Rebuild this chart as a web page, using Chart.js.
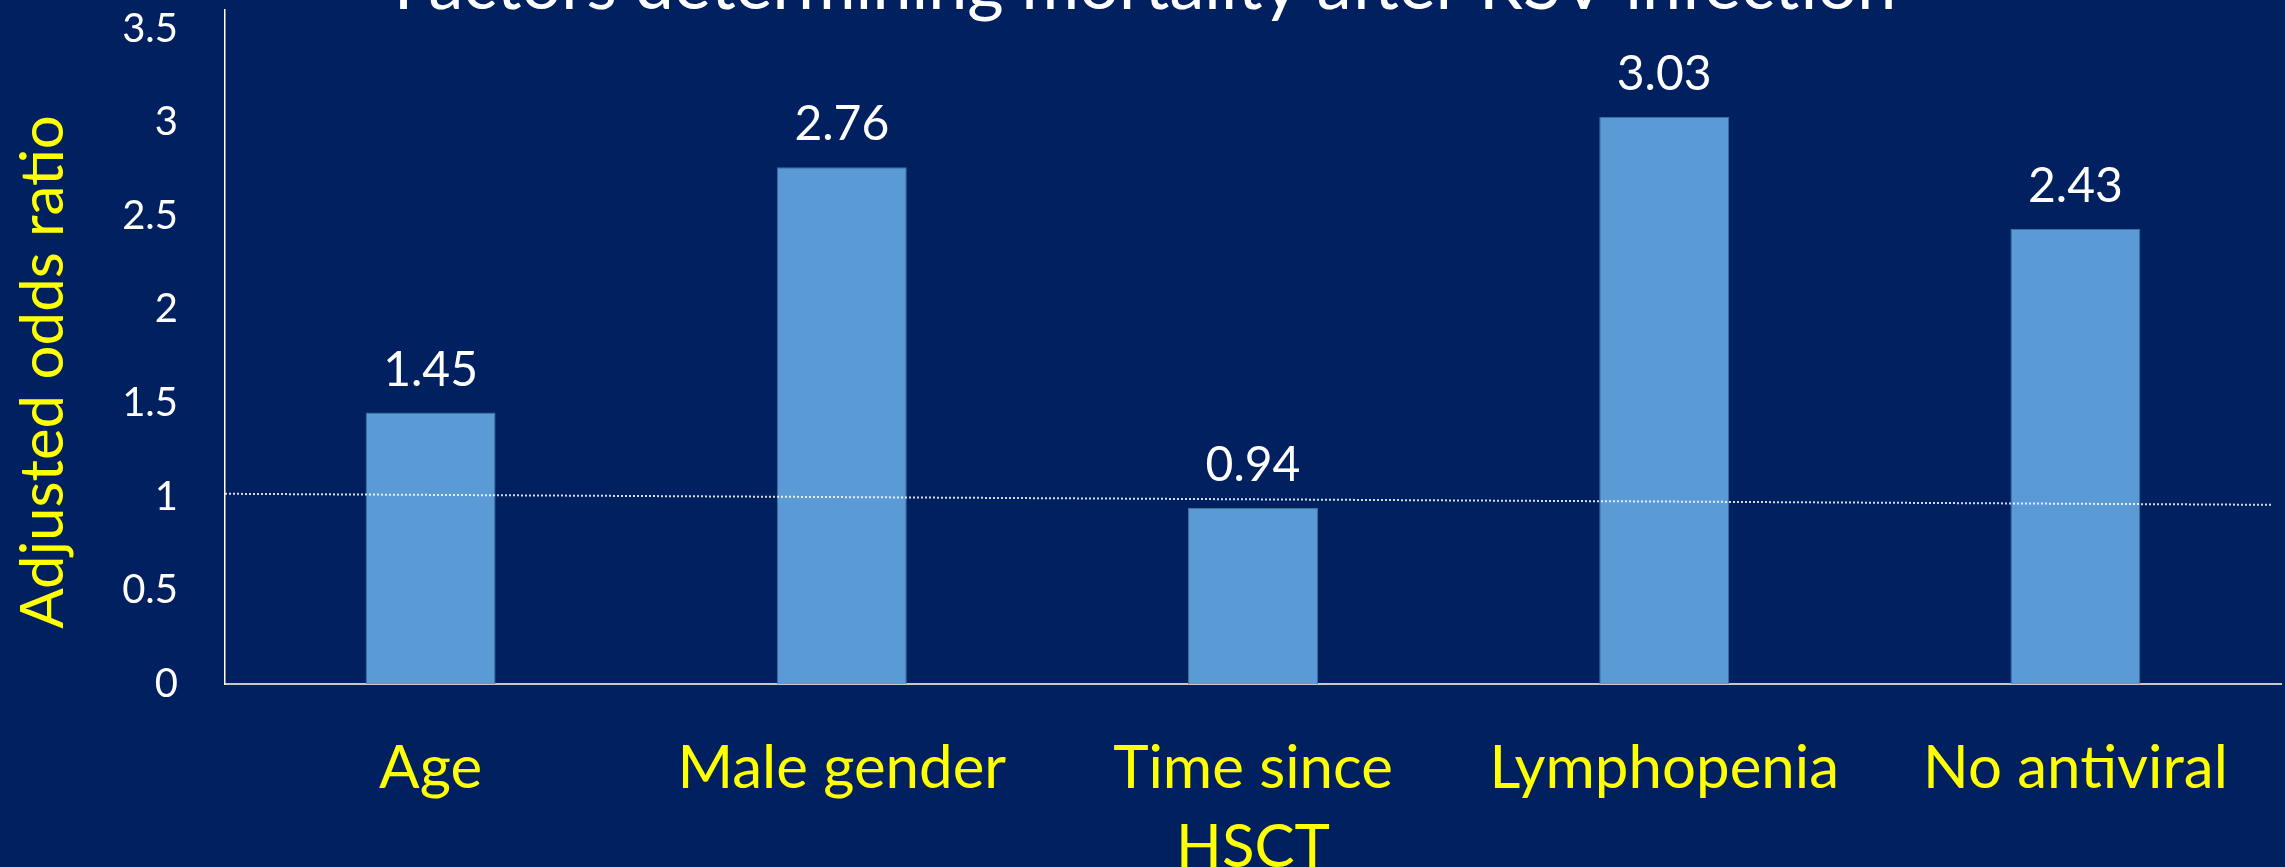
<!DOCTYPE html>
<html>
<head>
<meta charset="utf-8">
<script src="https://cdn.jsdelivr.net/npm/chart.js@4.4.1/dist/chart.umd.min.js"></script>
<style>
  html, body { margin: 0; padding: 0; background: #002060; }
  #wrap { width: 2285px; height: 867px; }
</style>
</head>
<body>
<div id="wrap"><canvas id="chart" width="2285" height="867"></canvas></div>
<script>
const categories = ["Age", "Male gender", ["Time since", "HSCT"], "Lymphopenia", "No antiviral"];
const oddsRatios = [1.45, 2.76, 0.94, 3.03, 2.43];
const valueLabels = ["1.45", "2.76", "0.94", "3.03", "2.43"];
const yTicks = [0, 0.5, 1, 1.5, 2, 2.5, 3, 3.5];
// hand drawn reference line near 1 (slightly tilted in the original)
const refLineStart = 1.016;
const refLineEnd = 0.957;

const FONT = "Lato, 'Open Sans', sans-serif";

// value labels above bars
const barLabels = {
  id: "barLabels",
  afterDatasetsDraw(chart) {
    const ctx = chart.ctx;
    const meta = chart.getDatasetMeta(0);
    ctx.save();
    ctx.fillStyle = "#ffffff";
    ctx.font = "48px " + FONT;
    ctx.textAlign = "center";
    ctx.textBaseline = "alphabetic";
    meta.data.forEach(function (bar, i) {
      ctx.fillText(valueLabels[i], bar.x, bar.y - 27);
    });
    ctx.restore();
  }
};

// dotted line at odds ratio 1
const refLine = {
  id: "refLine",
  afterDatasetsDraw(chart) {
    const ctx = chart.ctx;
    const y = chart.scales.y;
    const area = chart.chartArea;
    ctx.save();
    ctx.strokeStyle = "rgba(255,255,255,0.85)";
    ctx.lineWidth = 2;
    ctx.setLineDash([2, 2]);
    ctx.beginPath();
    ctx.moveTo(area.left, y.getPixelForValue(refLineStart));
    ctx.lineTo(area.right - 10, y.getPixelForValue(refLineEnd));
    ctx.stroke();
    ctx.restore();
  }
};

// title (cut off at top as in the slide) and the y axis title
const slideTexts = {
  id: "slideTexts",
  afterDraw(chart) {
    const ctx = chart.ctx;
    ctx.save();
    ctx.fillStyle = "#ffffff";
    ctx.font = "70px " + FONT;
    ctx.textAlign = "center";
    ctx.textBaseline = "alphabetic";
    ctx.fillText("Factors determining mortality after RSV infection", 1145, 9);

    ctx.translate(44, 372);
    ctx.rotate(-Math.PI / 2);
    ctx.fillStyle = "#ffff00";
    ctx.font = "60px " + FONT;
    ctx.textBaseline = "middle";
    ctx.fillText("Adjusted odds ratio", 0, 0);
    ctx.restore();
  }
};

const ctx = document.getElementById("chart").getContext("2d");
new Chart(ctx, {
  type: "bar",
  data: {
    labels: categories,
    datasets: [
      {
        data: oddsRatios,
        backgroundColor: "#5b9bd5",
        borderColor: "#41719c",
        borderWidth: 1,
        barPercentage: 1,
        categoryPercentage: 0.316
      }
    ]
  },
  options: {
    responsive: false,
    animation: false,
    layout: { padding: { top: 10, right: 4, left: 0, bottom: 0 } },
    plugins: {
      legend: { display: false },
      tooltip: { enabled: false }
    },
    scales: {
      x: {
        grid: { display: false, drawTicks: false },
        border: { display: true, color: "#c8c8c8", width: 2 },
        ticks: {
          color: "#ffff00",
          padding: 45,
          maxRotation: 0,
          autoSkip: false,
          font: { family: FONT, size: 60, lineHeight: 1.32 }
        },
        afterFit(scale) {
          scale.height = 183;
          scale.paddingLeft = 0;
          scale.paddingRight = 0;
        }
      },
      y: {
        min: 0,
        max: 3.6,
        afterBuildTicks(scale) {
          scale.ticks = yTicks.map(function (v) { return { value: v }; });
        },
        grid: { display: false, drawTicks: false },
        border: { display: true, color: "#ffffff", width: 1.5 },
        ticks: {
          color: "#ffffff",
          padding: 47,
          font: { family: FONT, size: 40 },
          callback: function (v) { return String(v); }
        },
        afterFit(scale) {
          scale.width = 225;
          scale.paddingTop = 0;
          scale.paddingBottom = 0;
        }
      }
    }
  },
  plugins: [barLabels, refLine, slideTexts]
});
</script>
</body>
</html>
